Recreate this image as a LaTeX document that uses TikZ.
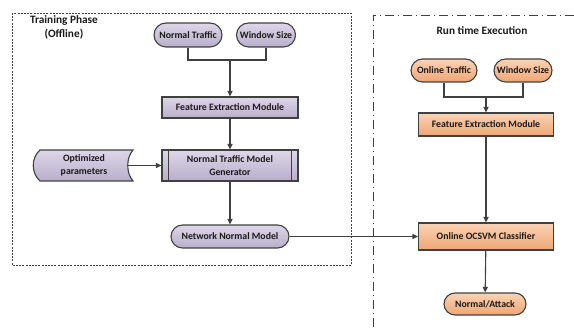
\documentclass[tikz,border=0pt]{standalone}
\usepackage{fontspec}
\setmainfont{Carlito}
\usetikzlibrary{arrows.meta,shapes.misc}
\definecolor{linec}{HTML}{404040}
\definecolor{txtc}{HTML}{1A1A1A}
\definecolor{purT}{HTML}{DDD7E8}
\definecolor{purB}{HTML}{B8AECB}
\definecolor{orgT}{HTML}{FAD3B5}
\definecolor{orgB}{HTML}{EFA674}
\begin{document}
\begin{tikzpicture}[x=1pt,y=-1pt,
  font=\fontsize{9.8}{12.5}\selectfont\bfseries, text=txtc,
  ln/.style={draw=linec, line width=1.1pt},
  arr/.style={ln, -{Triangle[length=5.5pt,width=5pt]}},
  pur/.style={draw=linec, line width=1.1pt, top color=purT, bottom color=purB},
  org/.style={draw=linec, line width=1.1pt, top color=orgT, bottom color=orgB},
  rr/.style={rounded rectangle, inner sep=1pt},
  boxn/.style={rectangle, inner sep=1pt, align=center},
  ttl/.style={font=\fontsize{11.3}{14}\selectfont\bfseries, align=center},
  frameA/.style={draw=linec, line width=0.9pt, dash pattern=on 2pt off 1.2pt},
  frameB/.style={draw=linec, line width=0.9pt, dash pattern=on 9pt off 4pt on 1pt off 4pt}]
\useasboundingbox (0,0) rectangle (574,328);

% frames
\draw[frameA] (12,13) rectangle (351,265);
\draw[frameB] (574,15) -- (373,15) -- (373,328);

% titles
\node[ttl] (tp) at (64,27) {Training Phase\\(Offline)};
\node[ttl] (rt) at (482,31) {Run time Execution};

% left column
\node[rr,pur,minimum width=70pt,minimum height=24pt] (nt) at (188,35) {Normal Traffic};
\node[rr,pur,minimum width=61pt,minimum height=24pt] (ws1) at (266,35) {Window Size};
\coordinate (j1) at (230,60);
\node[boxn,pur,minimum width=136pt,minimum height=21pt] (fe1) at (230,107.5) {Feature Extraction Module};
\node[boxn,pur,minimum width=136pt,minimum height=31pt] (gen) at (230,165.5) {Normal Traffic Model\\Generator};
\draw[ln] ([xshift=7pt]gen.north west) -- ([xshift=7pt]gen.south west);
\draw[ln] ([xshift=-7pt]gen.north east) -- ([xshift=-7pt]gen.south east);
\node[rr,pur,minimum width=120pt,minimum height=23pt] (nnm) at (230,236.5) {Network Normal Model};

% stored data shape
\path[pur] (40,150) -- (133,150) .. controls (126,158) and (126,173) .. (133,181)
  -- (40,181) .. controls (31,173) and (31,158) .. (40,150) -- cycle;
\node[align=center] (opt) at (84,165.5) {Optimized\\parameters};
\coordinate (optr) at (127.5,165.5);

% right column
\node[rr,org,minimum width=68pt,minimum height=23pt] (ot) at (444,70.5) {Online Traffic};
\node[rr,org,minimum width=60pt,minimum height=23pt] (ws2) at (523,70.5) {Window Size};
\coordinate (j2) at (486,97);
\node[boxn,org,minimum width=135pt,minimum height=23pt] (fe2) at (486,124.5) {Feature Extraction Module};
\node[boxn,org,minimum width=135pt,minimum height=27pt] (cls) at (486,236.5) {Online OCSVM Classifier};
\node[rr,org,minimum width=84pt,minimum height=22pt] (na) at (485,304) {Normal/Attack};

% connectors
\draw[ln] (nt.south) |- (j1) -| (ws1.south);
\draw[arr] (j1) -- (fe1.north);
\draw[arr] (fe1) -- (gen);
\draw[arr] (gen) -- (nnm);
\draw[arr] (optr) -- (gen.west);
\draw[arr] (nnm.east) -- (cls.west);
\draw[ln] (ot.south) |- (j2) -| (ws2.south);
\draw[arr] (j2) -- (fe2.north);
\draw[arr] (fe2) -- (cls);
\draw[arr] (cls) -- (na);
\end{tikzpicture}
\end{document}
